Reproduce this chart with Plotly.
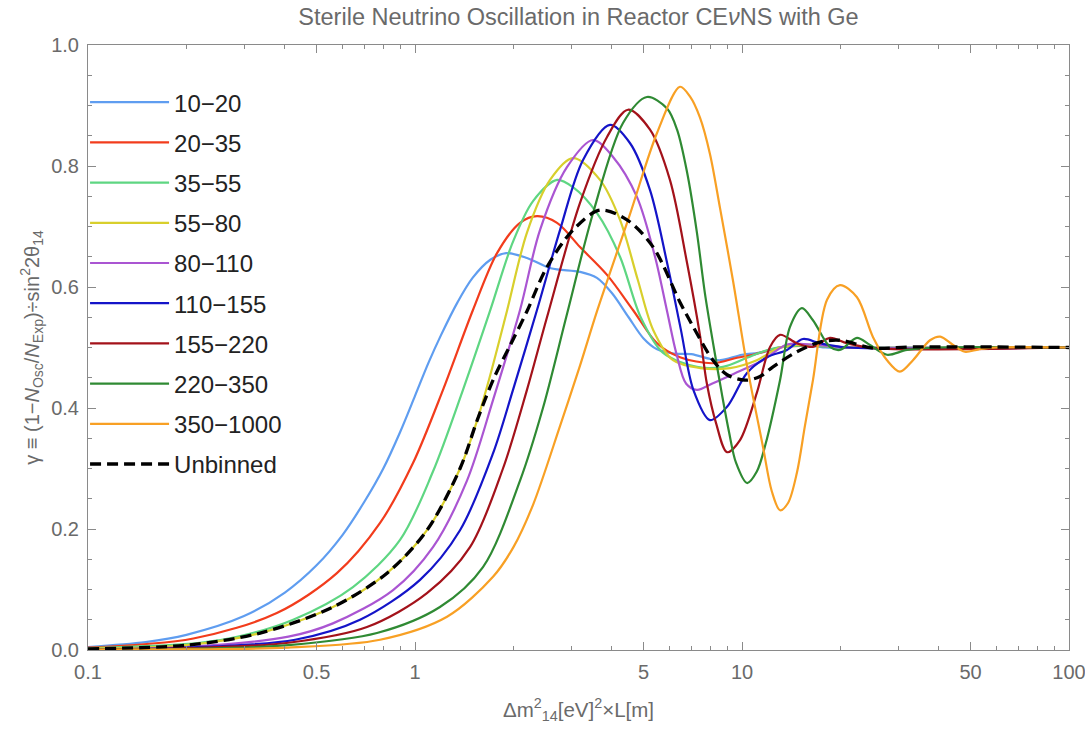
import plotly.graph_objects as go

# ---- data ----
x_10_20 = [0.1, 0.15, 0.2, 0.3, 0.4, 0.5, 0.6, 0.7, 0.8, 0.9, 1.0, 1.1, 1.2, 1.35, 1.5, 1.7, 1.9, 2.2, 2.6, 3.2, 3.6, 4.0, 4.5, 5.0, 5.5, 6.2, 7.0, 8.0, 8.6, 10.0, 11.5, 13.0, 15.0, 18.0, 30.0, 100]
y_10_20 = [0.005, 0.013, 0.025, 0.056, 0.095, 0.140, 0.19, 0.245, 0.30, 0.36, 0.42, 0.475, 0.52, 0.575, 0.615, 0.645, 0.656, 0.648, 0.631, 0.625, 0.615, 0.59, 0.55, 0.515, 0.497, 0.49, 0.489, 0.481, 0.479, 0.488, 0.492, 0.50, 0.505, 0.50, 0.50, 0.50]

x_20_35 = [0.1, 0.21, 0.378, 0.577, 0.782, 0.986, 1.218, 1.504, 1.782, 2.095, 2.361, 2.719, 3.196, 3.866, 4.641, 5.5, 6.46, 8.15, 9.65, 10.8, 13.07, 16.2, 21.4, 100]
y_20_35 = [0.004, 0.019, 0.061, 0.127, 0.210, 0.309, 0.43, 0.562, 0.656, 0.706, 0.717, 0.706, 0.666, 0.62, 0.562, 0.507, 0.484, 0.474, 0.483, 0.488, 0.50, 0.503, 0.50, 0.50]

x_35_55 = [0.1, 0.22, 0.288, 0.424, 0.646, 0.90, 1.135, 1.402, 1.695, 1.994, 2.296, 2.719, 3.041, 3.603, 4.236, 4.9, 5.74, 7.28, 8.75, 10.36, 12.18, 15, 21.4, 100]
y_35_55 = [0.003, 0.012, 0.022, 0.050, 0.104, 0.182, 0.295, 0.43, 0.56, 0.675, 0.742, 0.777, 0.765, 0.722, 0.65, 0.55, 0.491, 0.468, 0.468, 0.483, 0.497, 0.503, 0.50, 0.50]

x_55_80 = [0.1, 0.2, 0.336, 0.561, 0.821, 1.088, 1.373, 1.55, 1.69, 1.91, 2.2, 2.588, 3.04, 3.679, 4.236, 4.8, 5.35, 6.15, 7.44, 9.19, 11.1, 13.07, 16.2, 21.4, 100]
y_55_80 = [0.002, 0.008, 0.028, 0.071, 0.127, 0.198, 0.30, 0.38, 0.45, 0.56, 0.69, 0.777, 0.813, 0.777, 0.711, 0.612, 0.529, 0.479, 0.466, 0.466, 0.479, 0.50, 0.505, 0.50, 0.50]

x_80_110 = [0.1, 0.2, 0.41, 0.561, 0.857, 1.135, 1.442, 1.732, 2.095, 2.411, 2.915, 3.502, 4.033, 4.771, 5.42, 5.9, 6.3, 6.75, 7.28, 8.15, 9.65, 11.59, 13.73, 16.2, 21.4, 100]
y_80_110 = [0.0015, 0.005, 0.022, 0.044, 0.099, 0.170, 0.28, 0.413, 0.562, 0.694, 0.798, 0.843, 0.815, 0.749, 0.65, 0.56, 0.49, 0.44, 0.430, 0.441, 0.459, 0.479, 0.505, 0.505, 0.50, 0.50]

x_110_155 = [0.1, 0.2, 0.43, 0.679, 1.036, 1.373, 1.732, 1.994, 2.361, 2.776, 3.265, 3.947, 4.542, 5.233, 5.9, 6.5, 7.1, 7.98, 9.0, 10.36, 11.93, 13.73, 15.36, 17.32, 21, 100]
y_110_155 = [0.001, 0.004, 0.017, 0.050, 0.116, 0.198, 0.325, 0.43, 0.562, 0.694, 0.810, 0.868, 0.838, 0.760, 0.64, 0.53, 0.43, 0.38, 0.402, 0.458, 0.484, 0.496, 0.514, 0.507, 0.50, 0.50]

x_155_220 = [0.1, 0.2, 0.41, 0.713, 1.088, 1.473, 1.858, 2.2, 2.533, 3.196, 3.866, 4.48, 5.233, 6.02, 6.79, 7.44, 7.81, 8.33, 9.0, 9.86, 11.1, 12.18, 13.07, 14.72, 16.48, 18.58, 20.95, 25.16, 100]
y_155_220 = [0.001, 0.003, 0.012, 0.038, 0.094, 0.170, 0.30, 0.43, 0.55, 0.739, 0.848, 0.893, 0.860, 0.777, 0.64, 0.52, 0.44, 0.375, 0.327, 0.347, 0.425, 0.501, 0.521, 0.507, 0.501, 0.516, 0.507, 0.499, 0.50]

x_220_350 = [0.1, 0.2, 0.41, 0.765, 1.192, 1.614, 2.095, 2.462, 2.915, 3.502, 4.326, 5.12, 5.9, 6.33, 6.79, 7.28, 7.7, 8.2, 8.7, 9.13, 9.58, 10.36, 11.1, 11.8, 13.07, 14.02, 15.25, 16.48, 18.58, 19.93, 22.47, 24.62, 27.76, 31.96, 40, 100]
y_220_350 = [0.0008, 0.002, 0.008, 0.028, 0.071, 0.137, 0.28, 0.40, 0.555, 0.722, 0.871, 0.914, 0.895, 0.86, 0.79, 0.69, 0.59, 0.50, 0.42, 0.36, 0.31, 0.276, 0.295, 0.34, 0.446, 0.534, 0.565, 0.545, 0.501, 0.496, 0.516, 0.504, 0.488, 0.496, 0.50, 0.50]

x_350_1000 = [0.1, 0.2, 0.41, 0.782, 1.253, 1.732, 2.0, 2.296, 2.776, 3.196, 3.603, 4.542, 5.5, 6.46, 6.93, 7.44, 7.98, 8.57, 9.39, 10.36, 11.59, 12.34, 13.07, 13.83, 14.72, 15.57, 16.48, 18.2, 19.93, 22.47, 25.16, 27.76, 30.4, 33.33, 37.58, 40.4, 44.0, 48.0, 53.0, 60.0, 100]
y_350_1000 = [0.0005, 0.001, 0.004, 0.017, 0.055, 0.121, 0.17, 0.24, 0.37, 0.47, 0.56, 0.72, 0.855, 0.931, 0.915, 0.88, 0.82, 0.73, 0.61, 0.47, 0.336, 0.262, 0.231, 0.243, 0.293, 0.37, 0.446, 0.579, 0.603, 0.583, 0.517, 0.479, 0.460, 0.479, 0.512, 0.518, 0.505, 0.493, 0.497, 0.50, 0.50]

x_unbinned = [0.1, 0.2, 0.336, 0.561, 0.821, 1.088, 1.373, 1.55, 1.745, 1.96, 2.2, 2.533, 3.041, 3.679, 4.449, 5.35, 6.46, 7.08, 8.15, 9.0, 10.2, 11.35, 12.44, 14.72, 17.32, 19.93, 25.16, 33.3, 100]
y_unbinned = [0.002, 0.008, 0.028, 0.071, 0.127, 0.198, 0.30, 0.38, 0.45, 0.505, 0.56, 0.633, 0.694, 0.727, 0.711, 0.666, 0.575, 0.535, 0.479, 0.455, 0.446, 0.452, 0.468, 0.493, 0.509, 0.512, 0.499, 0.501, 0.50]

labels = ["10\u221220", "20\u221235", "35\u221255", "55\u221280", "80\u2212110",
          "110\u2212155", "155\u2212220", "220\u2212350", "350\u22121000"]
colors = ["#5f9df0", "#f23c1c", "#5ed682", "#d8cf2c", "#aa55d2",
          "#1414c8", "#a3121a", "#2f8a33", "#f8a024"]
series_x = [x_10_20, x_20_35, x_35_55, x_55_80, x_80_110, x_110_155, x_155_220, x_220_350, x_350_1000]
series_y = [y_10_20, y_20_35, y_35_55, y_55_80, y_80_110, y_110_155, y_155_220, y_220_350, y_350_1000]

x_tick_vals = [0.1, 0.5, 1, 5, 10, 50, 100]
x_tick_text = ["0.1", "0.5", "1", "5", "10", "50", "100"]
x_minor_vals = [0.2, 0.3, 0.4, 0.6, 0.7, 0.8, 0.9, 2, 3, 4, 6, 7, 8, 9, 20, 30, 40, 60, 70, 80, 90]
y_tick_vals = [0.0, 0.2, 0.4, 0.6, 0.8, 1.0]
y_tick_text = ["0.0", "0.2", "0.4", "0.6", "0.8", "1.0"]

fig = go.Figure()
for i, (xs, ys) in enumerate(zip(series_x, series_y)):
    fig.add_trace(go.Scatter(x=xs, y=ys, mode="lines", name=labels[i],
                             legendgroup=labels[i],
                             line=dict(color=colors[i], width=2.2, shape="spline", smoothing=0.9)))
fig.add_trace(go.Scatter(x=x_unbinned, y=y_unbinned, mode="lines", name="Unbinned",
                         legendgroup="Unbinned",
                         line=dict(color="black", width=3.3, dash="11px,6px", shape="spline", smoothing=0.9)))

axis_col = "#8a8a8a"
txt_col = "#6a6a6a"
font_family = "Liberation Sans"
tick_font = dict(family=font_family, size=20, color=txt_col)

fig.update_layout(
    width=1085, height=737,
    margin=dict(l=88, r=16, t=45, b=87, autoexpand=False),
    paper_bgcolor="white", plot_bgcolor="white",
    title=dict(text="Sterile Neutrino Oscillation in Reactor CE<i>ν</i>NS with Ge",
               x=0.5, xref="paper", xanchor="center", y=0.977, yanchor="middle",
               font=dict(family=font_family, size=23.5, color=txt_col)),
    legend=dict(x=-0.003, y=0.942, xanchor="left", yanchor="top",
                bgcolor="rgba(255,255,255,0)", font=dict(family=font_family, size=24, color="#222"),
                tracegroupgap=6, itemwidth=79),
    showlegend=True,
)
fig.update_xaxes(type="log", range=[-1, 2], showgrid=False, zeroline=False, automargin=False,
                 showline=True, linecolor=axis_col, linewidth=1, mirror="allticks",
                 ticks="inside", ticklen=8, tickcolor=axis_col,
                 tickvals=x_tick_vals, ticktext=x_tick_text, tickfont=tick_font,
                 ticklabelstandoff=4, ticklabeloverflow="allow",
                 minor=dict(tickvals=x_minor_vals, ticks="inside", ticklen=4, tickcolor=axis_col),
                 title=dict(text="Δm<sup>2</sup><sub>14</sub>[eV]<sup>2</sup>×L[m]",
                            font=dict(family=font_family, size=20.5, color=txt_col), standoff=20))
fig.update_yaxes(range=[0, 1], showgrid=False, zeroline=False, automargin=False,
                 showline=True, linecolor=axis_col, linewidth=1, mirror="allticks",
                 ticks="inside", ticklen=8, tickcolor=axis_col,
                 tickvals=y_tick_vals, ticktext=y_tick_text, tickfont=tick_font,
                 ticklabelstandoff=4,
                 minor=dict(dtick=0.05, ticks="inside", ticklen=4, tickcolor=axis_col),
                 title=dict(text="γ ≡ (1−<i>N</i><sub>Osc</sub>/<i>N</i><sub>Exp</sub>)÷sin<sup>2</sup>2θ<sub>14</sub>",
                            font=dict(family=font_family, size=20, color=txt_col), standoff=6))

fig.write_html("out.html")
